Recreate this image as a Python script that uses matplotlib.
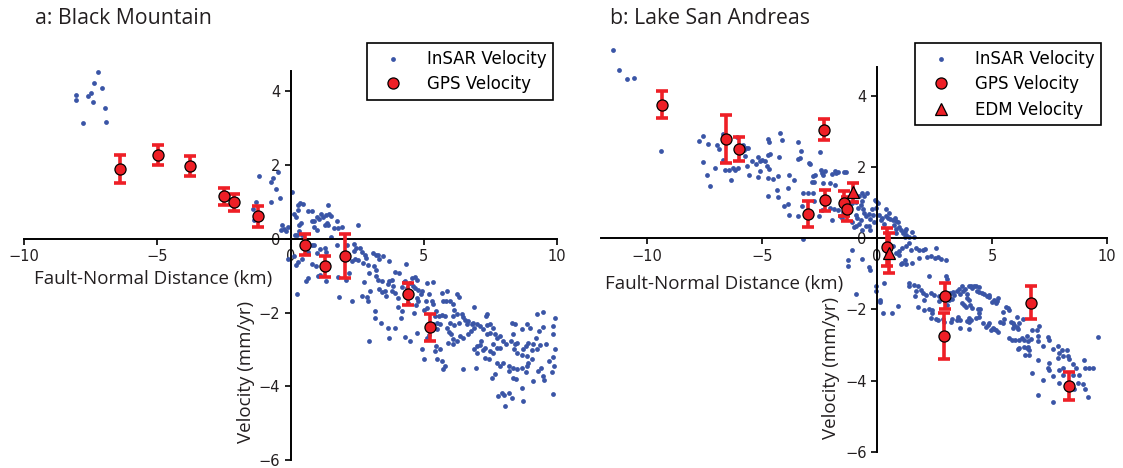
import matplotlib.pyplot as plt
import numpy as np

# InSAR fault-normal profiles, (distance km, velocity mm/yr)
insar_a = [
    (-8.04, 3.91), (-8.04, 3.76), (-7.80, 3.15), (-7.61, 3.87), (-7.50, 3.95), (-7.41, 3.70),
    (-7.37, 4.22), (-7.23, 4.53), (-7.07, 4.09), (-6.98, 3.54), (-6.92, 3.17),
    (-1.40, 0.81), (-1.37, 0.52),
    (-1.18, 1.70), (-0.73, 1.53), (-0.64, 1.66), (-0.56, 1.35), (-0.48, 1.82), (-0.41, 1.10),
    (-0.73, 1.01), (-1.31, 0.99), (0.07, 1.28), (0.14, 0.67), (0.19, 0.60), (0.27, 0.92),
    (0.37, 0.96), (0.48, 0.94), (0.29, 0.78), (0.33, 0.38), (0.39, 0.42), (0.64, 0.74),
    (0.79, 0.74), (0.79, 0.47), (0.89, 0.49), (0.99, 0.58), (1.07, 0.54), (1.14, 0.67),
    (1.23, 0.58), (1.32, 0.65), (1.42, 0.92), (1.44, 0.67), (1.36, 0.42), (1.29, 0.38),
    (1.39, 0.36), (1.52, 0.63), (1.64, 0.29), (1.74, 0.49), (1.79, 0.29), (1.94, 0.32),
    (2.52, 0.38), (0.99, 0.24), (0.87, 0.33), (0.32, 0.20), (0.23, 0.11), (-0.08, 0.33),
    (-0.31, 0.38), (-0.36, 0.24), (-0.23, 0.27), (-0.18, 0.20), (0.17, 0.11), (0.42, 0.09),
    (0.79, -0.18), (0.89, -0.16), (0.67, -0.36), (0.42, -0.54), (0.29, -0.63), (0.19, -0.70),
    (-0.11, -0.54), (0.14, -0.48), (0.98, -0.39), (1.12, -0.27), (1.29, -0.25), (1.32, -0.36),
    (1.52, 0.05), (1.74, -0.16), (2.12, -0.16), (2.40, -0.13), (2.37, -0.34), (2.62, -0.25),
    (2.70, -0.36), (2.47, -0.25), (2.30, -0.61), (2.42, -0.55), (2.55, -0.57), (2.73, -0.66),
    (2.92, -0.70), (2.80, -0.43), (2.82, -0.52), (3.10, -0.39), (3.20, -0.43), (3.27, -0.45),
    (3.32, -0.54), (3.47, -0.48), (3.70, -0.61), (3.15, -0.75), (2.95, -0.93), (3.20, -0.86),
    (3.22, -1.00), (3.30, -1.11), (3.42, -1.14), (3.32, -1.35), (3.42, -1.44), (3.55, -1.42),
    (3.65, -1.24), (3.70, -1.14), (3.80, -1.11), (3.86, -1.29), (3.92, -0.90), (4.07, -0.93),
    (4.17, -1.32), (4.27, -1.17), (3.82, -1.41), (3.92, -1.47), (4.05, -1.60), (3.57, -1.56),
    (4.02, -1.86), (4.17, -1.96), (4.15, -2.14), (2.70, -1.56), (2.87, -1.59), (3.00, -1.41),
    (2.77, -1.17), (2.90, -1.69), (3.17, -1.96), (3.17, -2.14), (3.40, -2.28), (3.65, -2.43),
    (3.92, -2.43), (3.70, -2.68), (2.95, -2.77), (2.30, -1.68), (2.07, -1.11), (2.20, -0.93),
    (1.77, -1.05), (1.34, -1.15), (1.04, -1.02), (0.67, -1.06), (0.59, -1.14), (0.82, -0.68),
    (0.94, -0.75), (1.82, -1.57), (0.24, -1.49), (1.12, -0.97),
    (4.33, -0.68), (4.31, -1.15), (4.36, -1.33), (4.48, -1.20), (4.55, -1.06), (4.67, -1.05),
    (4.73, -1.11), (4.61, -1.29), (4.67, -1.33), (4.80, -1.38), (4.89, -1.50), (4.92, -1.42),
    (4.73, -1.60), (4.80, -1.69), (4.71, -1.80), (4.39, -1.74), (4.63, -2.01), (4.73, -2.55),
    (4.30, -2.67), (4.49, -2.77), (5.13, -1.20), (5.33, -1.17), (5.21, -1.51), (5.08, -1.68),
    (5.30, -1.68), (5.36, -1.78), (5.13, -1.87), (5.01, -1.92), (5.46, -1.96), (5.58, -2.10),
    (5.67, -2.07), (5.80, -2.10), (5.86, -1.42), (5.67, -1.47), (5.71, -1.69), (5.84, -1.68),
    (5.99, -1.69), (6.11, -1.78), (6.13, -1.92), (6.24, -1.50), (6.33, -1.59), (6.11, -2.10),
    (6.26, -2.05), (6.42, -2.05), (6.49, -2.13), (6.55, -2.19), (6.33, -2.28), (6.13, -2.34),
    (5.99, -2.28), (5.96, -2.52), (6.01, -2.59), (5.92, -2.82), (6.11, -2.73), (6.24, -2.77),
    (6.36, -2.64), (6.49, -2.70), (6.67, -2.59), (6.76, -2.50), (6.89, -1.86), (6.89, -2.41),
    (6.84, -2.28), (6.67, -2.22), (6.80, -2.32), (6.61, -2.32), (7.01, -2.32), (7.11, -2.37),
    (7.24, -2.46), (7.34, -2.10), (7.39, -2.04), (7.39, -2.34), (7.49, -2.32), (7.49, -2.55),
    (7.59, -2.41), (7.67, -2.59), (7.76, -2.68), (7.86, -2.64), (7.39, -2.59), (7.16, -2.77),
    (7.11, -2.89), (6.99, -2.91), (6.89, -3.00), (7.01, -3.09), (7.24, -3.03), (7.30, -3.24),
    (7.46, -3.27), (7.31, -2.97), (7.49, -3.05), (7.61, -2.86), (7.74, -2.95), (7.86, -2.95),
    (7.99, -2.76), (8.09, -2.86), (8.26, -2.77), (8.30, -2.28), (8.43, -2.32), (8.36, -2.59),
    (8.43, -2.86), (8.51, -2.82), (8.39, -3.00), (8.49, -3.09), (8.74, -3.00), (8.84, -2.91),
    (8.92, -2.82), (8.68, -3.15), (8.89, -3.18), (9.05, -3.03), (9.11, -2.86), (9.26, -3.00),
    (9.36, -2.88), (9.59, -2.85), (9.21, -2.68), (9.33, -2.50), (9.46, -2.40), (9.26, -2.05),
    (9.49, -1.98), (9.84, -2.37), (9.93, -2.14), (8.86, -2.32), (8.99, -2.41), (8.68, -2.46),
    (9.86, -2.59), (9.93, -3.00), (9.84, -3.21), (9.71, -3.32), (9.89, -3.45), (9.80, -3.60),
    (9.49, -3.72), (9.51, -3.84), (9.09, -3.86), (8.84, -3.60), (8.69, -3.50), (8.51, -3.54),
    (8.33, -3.50), (8.18, -3.45), (8.18, -3.59), (8.36, -3.77), (8.46, -3.81), (8.70, -4.05),
    (8.74, -4.40), (7.92, -4.17), (8.01, -4.23), (8.19, -4.19), (8.30, -4.31), (7.80, -4.26),
    (8.04, -4.53), (7.55, -3.77), (7.67, -3.68), (7.76, -3.36), (7.59, -3.09), (6.96, -3.51),
    (6.46, -3.54), (5.80, -3.45), (5.73, -3.54), (5.67, -3.32), (5.51, -3.27), (5.61, -3.00),
    (5.42, -3.05), (5.46, -2.91), (5.01, -3.27), (4.92, -2.98), (5.11, -2.68), (5.21, -2.61),
    (5.51, -2.46), (5.17, -2.34), (5.36, -2.32), (5.49, -2.28), (5.61, -2.32), (5.86, -2.41),
    (5.42, -2.10), (6.09, -2.86), (9.84, -4.20), (9.30, -3.59), (9.39, -3.50), (9.05, -3.27),
    (8.92, -3.36), (8.86, -3.45), (7.99, -3.36), (7.86, -3.45),
]

insar_b = [
    (-11.49, 5.27), (-11.21, 4.72), (-10.87, 4.47), (-10.56, 4.50), (-9.41, 2.45),
    (-7.76, 2.72), (-7.58, 2.86), (-7.36, 2.65), (-7.55, 2.13), (-7.06, 1.97), (-6.97, 2.60),
    (-6.88, 2.49), (-6.71, 2.92), (-6.71, 2.20), (-6.62, 1.92), (-6.45, 1.92), (-7.39, 1.76),
    (-7.25, 1.47), (-6.33, 1.62), (-6.25, 1.97), (-6.16, 1.92), (-6.09, 2.84), (-6.04, 1.96),
    (-5.84, 2.60), (-5.78, 2.47), (-5.69, 2.53), (-5.61, 2.52), (-5.75, 2.30), (-5.65, 2.02),
    (-5.58, 1.76), (-5.43, 2.16), (-5.26, 2.09), (-5.19, 2.28), (-5.17, 1.72), (-5.11, 2.16),
    (-5.07, 1.88), (-5.00, 2.20), (-4.88, 2.16), (-4.76, 2.79), (-4.71, 2.69), (-4.73, 2.34),
    (-4.66, 2.36), (-4.78, 2.02), (-4.71, 1.94), (-4.73, 1.69), (-4.53, 1.66), (-4.30, 1.74),
    (-4.34, 1.36), (-4.30, 1.16), (-4.24, 2.94), (-4.12, 2.75), (-4.27, 2.28), (-3.86, 1.41),
    (-3.83, 1.76), (-3.81, 0.66), (-4.04, 0.91), (-3.86, 0.97), (-3.63, 1.62), (-3.43, 2.69),
    (-3.31, 2.44), (-3.43, 2.22), (-3.43, 0.61), (-4.76, 1.19),
    (-3.37, 2.25), (-2.50, 2.41), (-2.96, 2.11), (-2.93, 2.09), (-2.79, 1.74), (-2.74, 1.57),
    (-2.82, 1.57), (-2.70, 1.76), (-2.45, 1.91), (-2.41, 1.83), (-2.35, 1.78), (-2.27, 1.88),
    (-2.35, 1.55), (-1.95, 1.81), (-1.83, 1.88), (-1.77, 1.83), (-1.68, 1.85), (-1.44, 1.85),
    (-1.37, 1.85), (-1.83, 1.50), (-2.06, 1.55), (-3.22, 1.27), (-2.99, 1.27), (-2.79, 1.27),
    (-2.74, 1.03), (-3.25, 0.89), (-2.38, 0.80), (-2.53, 0.61), (-2.06, 0.85), (-1.87, 0.82),
    (-1.68, 0.80), (-1.63, 0.61), (-1.95, 0.52), (-1.54, 0.57), (-1.48, 0.73), (-1.07, 0.99),
    (-0.93, 1.01), (-0.78, 1.18), (-0.64, 1.27), (-0.57, 1.18), (-0.42, 1.27), (-0.71, 0.94),
    (-0.81, 0.85), (-0.64, 1.03), (-0.90, 0.66), (-0.86, 0.57), (-0.71, 0.50), (-0.61, 0.82),
    (-0.57, 0.71), (-0.49, 0.61), (-0.35, 0.69), (-0.32, 0.54), (-0.17, 0.66), (-0.20, 0.82),
    (-0.09, 1.06), (-0.03, 1.03), (-0.03, 0.85), (0.06, 0.99), (-1.07, 0.44), (-1.00, 0.31),
    (-0.90, 0.35), (-0.78, 0.41), (-0.64, 0.24), (-0.49, 0.35), (-0.35, 0.35), (-0.32, 0.24),
    (-0.13, 0.44), (0.09, 0.66), (0.16, 0.50), (0.23, 0.57), (0.31, 0.41), (0.41, 0.82),
    (0.41, 0.63), (0.52, 0.71), (0.49, 0.57), (0.55, 0.54), (0.70, 0.52), (0.78, 0.57),
    (0.84, 0.47), (0.93, 0.44), (0.74, 0.38), (0.81, 0.26), (0.96, 0.31), (1.03, 0.24),
    (1.13, 0.15), (1.22, 0.19), (1.28, 0.10), (1.22, 0.03), (1.39, 0.03), (1.54, 0.16),
    (1.61, 0.03), (1.28, 0.26), (0.81, 0.15), (-3.22, -0.02), (-1.07, -0.34), (-0.64, -0.59),
    (-1.25, -0.62), (-1.25, -0.79), (-0.93, -1.56), (-0.35, -0.81), (-0.32, -0.90), (-0.06, -1.35),
    (-0.03, -1.49), (0.31, -1.26), (0.70, -0.21), (0.81, -0.42), (0.96, -0.37), (1.10, -0.28),
    (1.25, -0.23), (1.39, -0.15), (1.47, -0.32), (1.22, -0.60), (1.10, -0.70), (1.25, -0.74),
    (1.71, -0.28), (1.83, -0.32), (1.98, -0.34), (2.09, -0.30), (2.19, -0.53), (2.34, -0.51),
    (2.56, -0.28), (2.53, -0.56), (2.67, -0.53), (2.77, -0.59), (2.99, -0.60), (2.99, -1.05),
    (3.06, -1.15), (0.96, -0.46), (1.03, -0.74), (1.54, -0.70), (1.83, -0.56), (1.39, -1.26),
    (1.39, -1.35), (1.61, -1.31), (1.68, -1.49), (1.76, -1.33), (1.90, -1.45), (1.98, -1.54),
    (2.12, -1.59), (2.34, -1.54), (2.48, -1.59), (2.70, -1.63), (1.66, -1.63), (2.27, -1.07),
    (0.11, -1.74), (0.12, -1.79), (0.28, -2.11), (0.65, -2.11), (0.93, -1.91), (2.02, -1.74),
    (1.79, -1.93), (2.02, -2.02), (2.25, -2.00),
    (2.38, -2.01), (2.41, -2.10), (2.34, -2.24), (2.56, -2.27), (2.63, -2.29), (2.85, -2.27),
    (2.92, -2.34), (2.70, -1.77), (2.96, -1.77), (3.02, -1.87), (3.14, -1.73), (3.25, -1.71),
    (3.17, -1.54), (3.31, -1.52), (3.36, -1.59), (3.46, -1.47), (3.57, -1.43), (3.60, -1.56),
    (3.69, -1.33), (3.72, -1.49), (3.83, -1.43), (3.89, -1.56), (3.98, -1.35), (4.08, -1.33),
    (4.12, -1.40), (4.23, -1.35), (4.30, -1.33), (4.33, -1.47), (4.42, -1.37), (4.44, -1.50),
    (4.56, -1.54), (4.66, -1.56), (4.76, -1.62), (4.85, -1.59), (4.88, -1.65), (5.00, -1.80),
    (5.10, -1.75), (5.17, -1.82), (5.20, -1.77), (5.24, -1.68), (3.89, -1.68), (3.98, -1.73),
    (3.69, -1.82), (3.79, -1.87), (3.86, -1.92), (4.04, -1.87), (4.15, -1.96), (4.37, -1.99),
    (4.47, -1.99), (4.44, -2.10), (4.42, -2.20), (4.30, -2.24), (4.08, -2.31), (3.98, -2.36),
    (3.89, -2.32), (3.60, -2.31), (3.46, -2.31), (3.50, -2.21), (3.28, -2.27), (3.21, -2.34),
    (3.60, -2.52), (4.01, -2.24), (4.62, -2.38), (4.73, -2.48), (4.81, -2.43), (4.95, -2.57),
    (5.03, -2.52), (5.10, -2.55), (5.17, -2.59), (5.24, -2.62), (4.88, -2.38), (5.34, -2.34),
    (5.49, -2.38), (5.53, -2.27), (5.61, -1.92), (5.68, -1.96), (5.72, -2.01), (5.49, -2.06),
    (5.83, -2.34), (5.90, -2.38), (5.97, -2.43), (6.07, -2.48), (6.11, -2.55), (6.16, -2.38),
    (6.36, -2.27), (6.07, -2.20), (5.90, -2.52), (5.75, -2.80), (5.87, -2.85), (6.01, -2.87),
    (6.16, -2.85), (6.30, -2.80), (6.41, -2.85), (6.51, -2.74), (6.55, -2.90), (6.70, -2.83),
    (6.74, -2.59), (6.94, -2.57), (7.03, -2.46), (6.99, -2.74), (6.99, -2.90), (6.19, -3.09),
    (6.11, -3.11), (6.41, -3.06), (6.51, -3.09), (6.62, -3.13), (6.45, -3.27), (6.62, -3.27),
    (6.55, -3.06), (6.99, -3.41), (7.20, -3.04), (7.42, -2.78), (7.47, -2.85), (7.64, -3.11),
    (7.86, -3.04), (7.90, -3.23), (7.86, -3.37), (8.05, -3.15), (8.08, -3.32), (8.25, -3.15),
    (8.29, -3.30), (8.34, -3.39), (8.51, -3.53), (8.98, -3.43), (9.02, -3.65), (9.21, -3.65),
    (9.38, -3.65), (8.66, -3.65), (8.08, -3.65), (7.90, -3.69), (7.47, -3.51), (7.42, -3.65),
    (7.49, -3.69), (6.74, -3.77), (7.23, -3.98), (7.64, -3.86), (7.90, -4.07), (8.08, -3.83),
    (8.51, -3.83), (8.77, -3.83), (8.73, -4.07), (8.95, -4.09), (9.06, -4.24), (8.58, -4.24),
    (9.16, -4.46), (6.99, -4.40), (7.64, -4.61), (9.62, -2.78), (4.01, -2.55),
]

# GPS stations: distance, velocity, 1-sigma
gps_a_x = [-6.40, -4.96, -3.79, -2.49, -2.12, -1.22, 0.55, 1.30, 2.04, 4.41, 5.24]
gps_a_y = [1.88, 2.27, 1.97, 1.15, 0.99, 0.61, -0.16, -0.75, -0.47, -1.50, -2.40]
gps_a_err = [0.38, 0.27, 0.28, 0.24, 0.23, 0.29, 0.28, 0.28, 0.60, 0.29, 0.36]

gps_b_x = [-9.36, -6.57, -5.98, -3.01, -2.25, -2.31, -1.42, -1.31, 0.45, 2.95, 2.90, 6.68, 8.33]
gps_b_y = [3.74, 2.79, 2.49, 0.68, 1.06, 3.04, 0.98, 0.81, -0.25, -1.62, -2.75, -1.81, -4.15]
gps_b_err = [0.38, 0.67, 0.34, 0.37, 0.29, 0.29, 0.35, 0.34, 0.52, 0.36, 0.64, 0.46, 0.40]

edm_b_x = [-1.04, 0.50]
edm_b_y = [1.28, -0.42]
edm_b_err = [0.27, 0.55]

titles = ['a: Black Mountain', 'b: Lake San Andreas']
xlabel = 'Fault-Normal Distance (km)'
ylabel = 'Velocity (mm/yr)'

BLUE = '#3a55a6'
RED = '#ee1f26'
TEXT = '#231f20'
label_font = 'Open Sans'


def style_axes(ax, xlim, ylim):
    ax.set_xlim(*xlim)
    ax.set_ylim(*ylim)
    for side in ['top', 'right']:
        ax.spines[side].set_visible(False)
    ax.spines['left'].set_position('zero')
    ax.spines['bottom'].set_position('zero')
    for side in ['left', 'bottom']:
        ax.spines[side].set_linewidth(1.4)
    ax.set_xticks([-10, -5, 0, 5, 10])
    ax.set_yticks([-6, -4, -2, 0, 2, 4])
    ax.tick_params(direction='out', length=4, width=1.2, labelsize=10.5,
                   labelcolor=TEXT)


def draw_errorbars(ax, x, y, err, marker, label):
    ax.errorbar(x, y, yerr=err, fmt='none', ecolor=RED, elinewidth=2.6,
                capsize=4.5, capthick=2.6, zorder=3)
    ax.plot(x, y, marker, ls='none', ms=8, mfc=RED, mec='black', mew=0.9,
            label=label, zorder=4)


fig = plt.figure(figsize=(11.23, 4.68), dpi=100)
ax_a = fig.add_axes([0.0214, 0.0171, 0.4746, 0.8312])
ax_b = fig.add_axes([0.5352, 0.0342, 0.4506, 0.8226])

# panel a
pa = np.array(insar_a)
ax_a.scatter(pa[:, 0], pa[:, 1], s=12, color=BLUE, lw=0, label='InSAR Velocity',
             clip_on=False, zorder=2)
draw_errorbars(ax_a, gps_a_x, gps_a_y, gps_a_err, 'o', 'GPS Velocity')
style_axes(ax_a, (-10, 10), (-6, 4.55))

# panel b
pb = np.array(insar_b)
ax_b.scatter(pb[:, 0], pb[:, 1], s=12, color=BLUE, lw=0, label='InSAR Velocity',
             clip_on=False, zorder=2)
draw_errorbars(ax_b, gps_b_x, gps_b_y, gps_b_err, 'o', 'GPS Velocity')
draw_errorbars(ax_b, edm_b_x, edm_b_y, edm_b_err, '^', 'EDM Velocity')
style_axes(ax_b, (-12, 10), (-6, 4.8))

for ax, title, tx, anchor, lx, ly, yx, yy in [
        (ax_a, titles[0], 0.031, (553 / 1123, 1 - 43 / 468), 0.242, 0.488, 0.433, 0.226),
        (ax_b, titles[1], 0.543, (1101 / 1123, 1 - 43 / 468), 0.243, 0.46, 0.473, 0.218)]:
    fig.text(tx, 0.948, title, fontsize=15.3, family=label_font, va='baseline',
             color=TEXT)
    ax.set_xlabel(xlabel, fontsize=13.5, family=label_font, color=TEXT)
    ax.xaxis.set_label_coords(lx, ly)
    ax.set_ylabel(ylabel, fontsize=13.5, family=label_font, color=TEXT)
    ax.yaxis.set_label_coords(yx, yy)
    leg = ax.legend(loc='upper right', bbox_to_anchor=anchor,
                    bbox_transform=fig.transFigure, fontsize=12, numpoints=1,
                    scatterpoints=1, fancybox=False, framealpha=1,
                    handlelength=2.3, handletextpad=0.9, labelspacing=0.45,
                    borderpad=0.4, borderaxespad=0, markerscale=1.0)
    leg.get_frame().set_edgecolor('black')
    leg.get_frame().set_linewidth(1.2)

fig.savefig('out.png', dpi=100)
